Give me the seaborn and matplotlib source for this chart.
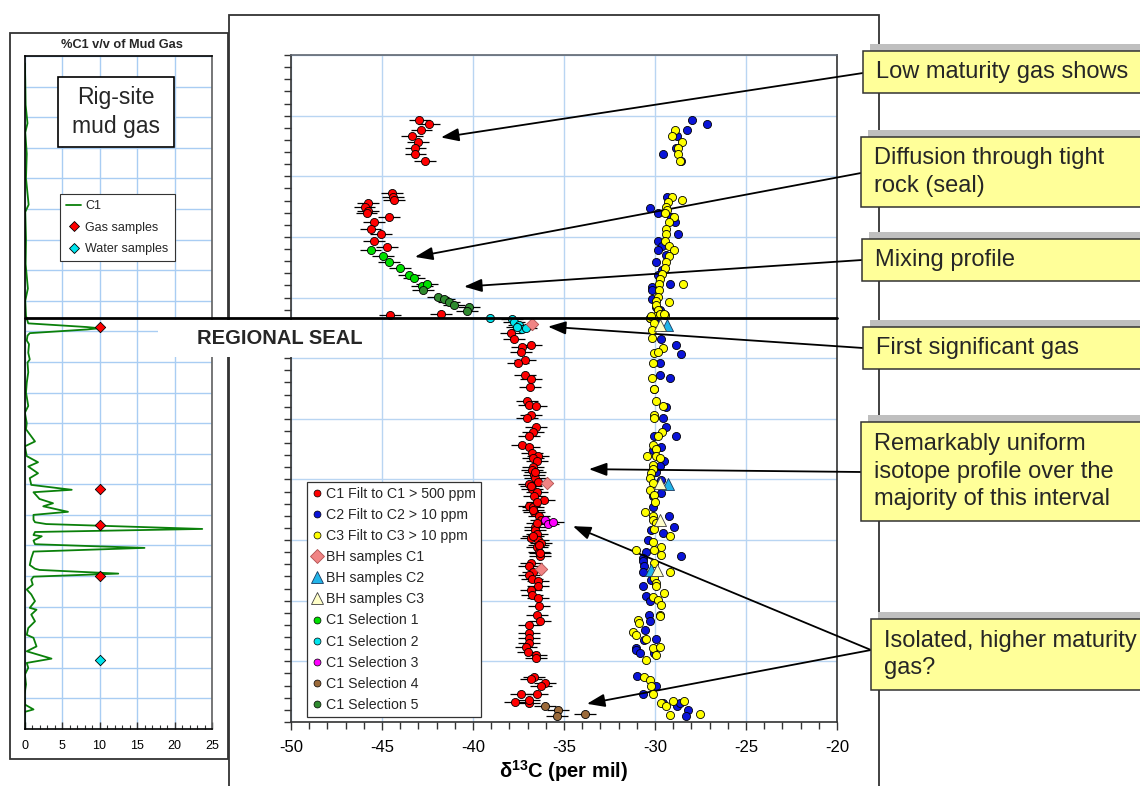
import matplotlib
matplotlib.use("Agg")
import matplotlib.pyplot as plt
import seaborn as sns
from matplotlib.lines import Line2D
from matplotlib.patches import Rectangle
from matplotlib.ticker import MultipleLocator, NullFormatter

# ---------------- data: main panel (delta13C per mil vs depth, 0 = top) ----------------
# C1, filtered to C1 > 500 ppm
c1_x = [-42.94, -42.42, -42.83, -43.34, -43.03, -43.16, -43.16, -42.66,
        -44.43, -44.39, -44.36, -45.76, -45.96, -45.76, -45.85, -44.61, -45.44,
        -45.63, -45.04, -45.44, -44.74,
        -44.54, -41.74,
        -37.92, -37.73, -36.82, -37.33, -37.37, -37.13, -37.53, -37.13, -36.83, -36.85,
        -37.04, -36.94, -36.52, -36.82, -37.02, -36.52, -36.72, -36.91, -37.33, -36.94,
        -36.76, -36.45, -36.72, -36.49, -36.72, -36.76, -36.67, -36.61, -36.45, -36.94,
        -36.78, -36.49, -36.63, -36.12, -36.94, -36.72, -36.67, -36.39, -36.25, -36.61,
        -36.58, -36.47, -36.82, -36.45, -36.27, -36.50, -36.36, -36.30,
        -36.60, -36.80, -36.50, -36.70, -36.50, -36.70, -36.40, -36.32,
        -36.82, -36.91, -36.72, -36.91, -36.76, -36.45, -36.45, -36.82, -36.76, -36.45,
        -36.36, -36.50, -36.30, -36.91, -36.94, -36.91, -36.91, -37.09, -37.00, -36.54,
        -36.54, -36.63, -36.82, -36.03, -36.27, -37.37, -36.50, -37.70, -36.94, -36.94]
c1_depth = [108, 114, 124, 134, 143, 154, 164, 174,
            228, 234, 239, 244, 251, 258, 261, 267, 276,
            287, 296, 307, 316,
            428, 427,
            459, 468, 478, 482, 489, 503, 508, 528, 534, 548,
            570, 577, 579, 594, 599, 614, 622, 628, 644, 647,
            657, 661, 665, 669, 680, 684, 693, 698, 704, 707,
            715, 720, 727, 734, 743, 745, 754, 761, 767, 779,
            784, 790, 796, 800, 805, 812, 819, 827,
            688, 710, 738, 750, 772, 793, 808, 821,
            837, 843, 852, 857, 864, 868, 875, 882, 890, 896,
            909, 923, 934, 940, 953, 962, 970, 977, 984, 989,
            995, 1025, 1029, 1035, 1040, 1054, 1054, 1067, 1068, 1063]

# C2, filtered to C2 > 10 ppm
c2_x = [-27.95, -27.14, -28.24, -28.81, -28.85, -29.55, -28.59,
        -29.36, -30.27, -29.86, -29.14, -28.90, -28.74, -29.86, -29.59, -29.86, -29.42,
        -29.95, -29.59, -29.86, -29.16, -30.14, -30.14, -30.14, -29.92, -29.73, -30.29,
        -29.94, -29.66, -28.87, -28.56, -29.75, -29.18, -29.75, -30.03, -29.39, -29.57,
        -29.39, -28.87, -30.08, -29.66, -30.12, -29.48, -29.75, -30.12, -29.94, -29.66,
        -29.66, -30.12, -30.12, -29.24, -28.93, -30.21, -29.57, -30.39, -30.49, -28.56,
        -30.67,
        -30.67, -30.58, -30.67, -30.21, -30.67, -30.52, -30.30, -30.34, -30.27, -30.54,
        -30.58, -29.97, -31.04, -31.04, -30.85, -30.03, -31.00, -29.94, -30.67, -29.57,
        -28.78, -28.65, -28.19, -28.28]
c2_depth = [108, 114, 123, 134, 154, 164, 174,
            234, 252, 261, 267, 276, 296, 307, 315, 322, 330,
            341, 354, 362, 378, 383, 388, 402, 416, 421, 433,
            437, 468, 478, 493, 508, 533, 528, 550, 580, 599,
            614, 628, 629, 646, 651, 669, 677, 682, 687, 701,
            723, 728, 745, 761, 779, 783, 789, 800, 819, 827,
            830,
            835, 843, 852, 865, 876, 893, 901, 923, 934, 948,
            964, 963, 978, 981, 986, 986, 1024, 1040, 1054, 1068,
            1074, 1069, 1080, 1090]

# C3, filtered to C3 > 10 ppm
c3_x = [-28.92, -29.05, -28.50, -28.76, -28.72, -28.65,
        -29.05, -28.54, -29.31, -29.42, -29.36, -29.46, -28.94, -29.22, -29.42, -29.42,
        -29.46, -29.22, -28.94, -29.25, -29.42, -29.46, -29.60, -29.73, -29.77, -28.46,
        -29.77, -29.86, -29.95, -29.25, -29.92, -29.82, -29.46, -29.92, -30.29,
        -30.21, -29.75, -29.48, -30.08, -30.14, -30.16, -29.57, -30.06, -29.81, -30.10,
        -30.16, -30.08, -29.94, -29.57, -30.08, -30.08, -29.61, -29.84, -30.12, -29.97,
        -30.43, -29.97, -29.75, -30.12, -30.12, -30.21, -30.27, -30.12, -30.30, -30.03,
        -29.99, -30.54, -30.12, -30.12, -29.94, -30.03, -29.20, -30.12, -29.66, -31.04,
        -30.03,
        -29.66, -30.03, -29.20, -30.03, -29.94, -29.97, -29.48, -30.12, -29.84, -29.66,
        -29.75, -29.75, -30.94, -30.89, -31.22, -31.04, -30.49, -30.12, -29.75, -29.94,
        -30.49, -30.58, -30.30, -30.21, -30.12, -29.66, -29.02, -29.39, -28.38, -29.20,
        -27.55]
c3_depth = [123, 134, 143, 154, 164, 174,
            234, 239, 242, 250, 256, 261, 267, 276, 287, 296,
            307, 315, 322, 331, 341, 352, 361, 369, 377, 378,
            388, 399, 405, 407, 413, 421, 428, 431, 433,
            431, 427, 427, 442, 453, 467, 484, 492, 489, 508,
            533, 550, 570, 579, 594, 599, 621, 628, 643, 650,
            661, 662, 665, 676, 683, 690, 698, 706, 717, 726,
            738, 753, 761, 767, 772, 781, 793, 803, 811, 817,
            816,
            824, 837, 853, 863, 871, 876, 888, 894, 898, 907,
            923, 926, 931, 937, 951, 956, 963, 978, 977, 989,
            997, 1025, 1030, 1041, 1054, 1069, 1066, 1074, 1066, 1089,
            1086]

# borehole samples
bh_c1_x = [-36.78, -35.94, -36.27]
bh_c1_depth = [443, 706, 848]
bh_c2_x = [-29.33, -29.26, -30.21]
bh_c2_depth = [445, 707, 849]
bh_c3_x = [-29.73, -29.73, -29.73, -29.88]
bh_c3_depth = [445, 706, 767, 850]

# C1 selections
sel1_x = [-45.63, -44.94, -44.61, -44.02, -43.51, -43.23, -42.81, -42.51]
sel1_depth = [322, 331, 341, 352, 362, 368, 381, 378]
sel2_x = [-39.07, -37.88, -37.73, -37.46, -37.31, -37.09, -37.60]
sel2_depth = [433, 435, 441, 445, 452, 451, 449]
sel3_x = [-36.05, -35.90, -35.62]
sel3_depth = [767, 773, 770]
sel4_x = [-36.05, -35.35, -35.40, -33.83]
sel4_depth = [1074, 1080, 1090, 1086]
sel5_x = [-42.73, -41.92, -41.57, -41.34, -41.04, -40.21, -40.32]
sel5_depth = [387, 399, 403, 407, 412, 416, 422]

c1_err = 0.6  # +/- per mil

# ---------------- data: left panel (% C1 v/v of mud gas) ----------------
mud_c1_pct = [0.05, 0.1, 0.15, 0.4, 0.1, 0.3, 0.2, 0.55, 0.1, 0.2, 0.15, 0.45, 0.1, 0.2,
              0.5, 8.3, 10.0, 8.3, 0.7, 0.4, 0.3, 0.6, 0.5, 0.7, 0.4, 0.5, 0.3, 0.2,
              0.5, 0.05, 0.3, 0.2, 1.4, 0.05, 0.3, 1.8, 0.5, 1.8, 0.7, 0.9, 6.3, 1.2,
              2.0, 3.8, 2.5, 5.8, 1.2, 1.2, 1.4, 2.9, 23.7, 1.4, 1.2, 2.3, 1.2, 1.4,
              16.0, 1.2, 0.9, 0.7, 1.4, 2.0, 12.5, 1.2, 0.9, 1.1, 0.3, 0.9, 1.4, 0.7,
              1.6, 0.9, 1.4, 0.5, 0.3, 1.2, 1.6, 0.3, 3.6, 0.3, 0.5, 0.05, 0.2, 0.0,
              0.05, 1.2, 0.05, 0.0, 0.05]
mud_depth = [12, 40, 80, 110, 125, 160, 200, 243, 255, 300, 340, 380, 400, 425,
             437, 443, 445, 447, 453, 457, 465, 471, 485, 496, 501, 517, 534, 550,
             572, 583, 600, 610, 630, 638, 654, 664, 671, 682, 690, 701, 709, 713,
             724, 731, 736, 745, 750, 758, 762, 765, 773, 778, 783, 785, 792, 798,
             804, 810, 821, 832, 838, 840, 846, 851, 856, 864, 872, 880, 891, 902,
             905, 913, 924, 935, 946, 951, 965, 973, 985, 992, 1000, 1011, 1027, 1044,
             1060, 1068, 1072, 1087, 1096]
gas_pct = [10, 10, 10, 10]
gas_depth = [443, 707, 767, 850]
water_pct = [10]
water_depth = [987]

notes = ["Low maturity gas shows",
         "Diffusion through tight\nrock (seal)",
         "Mixing profile",
         "First significant gas",
         "Remarkably uniform\nisotope profile over the\nmajority of this interval",
         "Isolated, higher maturity\ngas?"]

# ---------------- style ----------------
sns.set_theme(style="white")
plt.rcParams["font.family"] = ["Liberation Sans", "DejaVu Sans"]
plt.rcParams["axes.unicode_minus"] = False
plt.rcParams["mathtext.fontset"] = "custom"
plt.rcParams["mathtext.rm"] = "Liberation Sans"
plt.rcParams["mathtext.bf"] = "Liberation Sans:bold"

GRID = "#b9d5f2"
EDGE = "#333333"
W, H = 1140, 786
fig = plt.figure(figsize=(W / 100, H / 100), dpi=100)


def fx(px):
    return px / W


def fy(py):
    return 1 - py / H


def fig_rect(x0, y0, x1, y1, **kw):
    r = Rectangle((fx(x0), fy(y1)), fx(x1) - fx(x0), fy(y0) - fy(y1),
                  transform=fig.transFigure, **kw)
    fig.add_artist(r)
    return r


ax = fig.add_axes([fx(291), fy(722), fx(837) - fx(291), fy(55) - fy(722)])
lax = fig.add_axes([fx(24.5), fy(729), fx(212) - fx(24.5), fy(56) - fy(729)])

# ---------------- main panel ----------------
all_c1_x = c1_x + sel1_x + sel2_x + sel3_x + sel4_x + sel5_x
all_c1_d = c1_depth + sel1_depth + sel2_depth + sel3_depth + sel4_depth + sel5_depth
ax.errorbar(all_c1_x, all_c1_d, xerr=c1_err, fmt="none", ecolor="black",
            elinewidth=0.9, capsize=0, zorder=2)

pt = dict(ax=ax, s=34, edgecolor="black", linewidth=0.6, legend=False)
sns.scatterplot(x=c2_x, y=c2_depth, color="#0a14d8", zorder=3, **pt)
sns.scatterplot(x=c3_x, y=c3_depth, color="#ffff00", zorder=3.1, **pt)
sns.scatterplot(x=c1_x, y=c1_depth, color="#ff0000", zorder=3.2, **pt)
sns.scatterplot(x=sel1_x, y=sel1_depth, color="#00e000", zorder=3.3, **pt)
sns.scatterplot(x=sel2_x, y=sel2_depth, color="#00e5ee", zorder=3.3, **pt)
sns.scatterplot(x=sel3_x, y=sel3_depth, color="#ff00ff", zorder=3.3, **pt)
sns.scatterplot(x=sel4_x, y=sel4_depth, color="#9b6a3a", zorder=3.3, **pt)
sns.scatterplot(x=sel5_x, y=sel5_depth, color="#2f8a2f", zorder=3.3, **pt)
sns.scatterplot(x=bh_c1_x, y=bh_c1_depth, color="#f08484", marker="D", s=40,
                edgecolor="#b05050", linewidth=0.6, ax=ax, zorder=4, legend=False)
sns.scatterplot(x=bh_c2_x, y=bh_c2_depth, color="#22b4e8", marker="^", s=75,
                edgecolor="#1a3a60", linewidth=0.6, ax=ax, zorder=4, legend=False)
sns.scatterplot(x=bh_c3_x, y=bh_c3_depth, color="#ffffc8", marker="^", s=75,
                edgecolor="#404040", linewidth=0.6, ax=ax, zorder=4.1, legend=False)

ax.set_xlim(-50, -20)
ax.set_ylim(1100, 0)
ax.xaxis.set_major_locator(MultipleLocator(5))
ax.xaxis.set_minor_locator(MultipleLocator(1))
ax.yaxis.set_major_locator(MultipleLocator(100))
ax.yaxis.set_minor_locator(MultipleLocator(20))
ax.yaxis.set_major_formatter(NullFormatter())
ax.grid(True, which="major", color=GRID, lw=1)
ax.set_axisbelow(True)
ax.tick_params(axis="x", which="major", bottom=True, direction="out", length=6,
               width=1, color=EDGE, labelsize=12, pad=7, labelcolor="black")
ax.tick_params(axis="x", which="minor", bottom=True, direction="out", length=5,
               width=1, color=EDGE)
ax.tick_params(axis="y", which="both", left=True, direction="out", length=5,
               width=1, color=EDGE)
for s in ax.spines.values():
    s.set_color(EDGE)
    s.set_linewidth(1.2)
ax.spines["top"].set_color("#5f6670")
ax.set_ylabel("")
ax.set_xlabel(r"δ$^{\mathbf{13}}$C (per mil)", fontsize=14.5, fontweight="bold",
              labelpad=2, color="black")

handles = [
    Line2D([], [], ls="", marker="o", ms=5, mfc="#ff0000", mec="black", mew=0.5, label="C1 Filt to C1 > 500 ppm"),
    Line2D([], [], ls="", marker="o", ms=5, mfc="#0a14d8", mec="black", mew=0.5, label="C2 Filt to C2 > 10 ppm"),
    Line2D([], [], ls="", marker="o", ms=5, mfc="#ffff00", mec="black", mew=0.5, label="C3 Filt to C3 > 10 ppm"),
    Line2D([], [], ls="", marker="D", ms=7, mfc="#f08484", mec="#b05050", mew=0.6, label="BH samples C1"),
    Line2D([], [], ls="", marker="^", ms=9, mfc="#22b4e8", mec="#1a3a60", mew=0.6, label="BH samples C2"),
    Line2D([], [], ls="", marker="^", ms=9, mfc="#ffffc8", mec="#404040", mew=0.6, label="BH samples C3"),
    Line2D([], [], ls="", marker="o", ms=5, mfc="#00e000", mec="black", mew=0.5, label="C1 Selection 1"),
    Line2D([], [], ls="", marker="o", ms=5, mfc="#00e5ee", mec="black", mew=0.5, label="C1 Selection 2"),
    Line2D([], [], ls="", marker="o", ms=5, mfc="#ff00ff", mec="black", mew=0.5, label="C1 Selection 3"),
    Line2D([], [], ls="", marker="o", ms=5, mfc="#9b6a3a", mec="black", mew=0.5, label="C1 Selection 4"),
    Line2D([], [], ls="", marker="o", ms=5, mfc="#2f8a2f", mec="black", mew=0.5, label="C1 Selection 5"),
]
leg = ax.legend(handles=handles, loc="upper left", bbox_to_anchor=(fx(307), fy(482)),
                bbox_transform=fig.transFigure, frameon=True, fancybox=False,
                edgecolor=EDGE, framealpha=1, fontsize=10.2, borderpad=0.35,
                labelspacing=0.5, handlelength=0.7, handletextpad=0.3,
                borderaxespad=0)
leg.get_frame().set_linewidth(0.9)

# ---------------- left panel ----------------
sns.lineplot(x=mud_c1_pct, y=mud_depth, sort=False, estimator=None, color="#0a800a",
             lw=1.3, ax=lax)
sns.scatterplot(x=gas_pct, y=gas_depth, color="#ff0000", marker="D", s=28,
                edgecolor="black", linewidth=0.6, ax=lax, zorder=4, legend=False)
sns.scatterplot(x=water_pct, y=water_depth, color="#00e5ee", marker="D", s=28,
                edgecolor="black", linewidth=0.6, ax=lax, zorder=4, legend=False)
lax.set_xlim(0, 25)
lax.set_ylim(1100, 0)
lax.xaxis.set_major_locator(MultipleLocator(5))
lax.xaxis.set_minor_locator(MultipleLocator(1))
lax.yaxis.set_major_locator(MultipleLocator(50))
lax.yaxis.set_major_formatter(NullFormatter())
lax.grid(True, which="major", color="#a9cdf3", lw=1)
lax.set_axisbelow(True)
lax.tick_params(axis="x", which="major", bottom=True, direction="in", length=5,
                width=1, color=EDGE, labelsize=9, pad=8, labelcolor="black")
lax.tick_params(axis="x", which="minor", bottom=True, direction="in", length=3,
                width=0.8, color=EDGE)
lax.tick_params(axis="y", which="both", left=False, length=0)
for s in lax.spines.values():
    s.set_color("black")
    s.set_linewidth(1.2)
lax.spines["right"].set_color("#606060")
lax.set_xlabel("")
lax.set_ylabel("")
lhandles = [
    Line2D([], [], color="#0a800a", lw=1.3, label="C1"),
    Line2D([], [], ls="", marker="D", ms=5, mfc="#ff0000", mec="black", mew=0.6, label="Gas samples"),
    Line2D([], [], ls="", marker="D", ms=5, mfc="#00e5ee", mec="black", mew=0.6, label="Water samples"),
]
lleg = lax.legend(handles=lhandles, loc="upper left", bbox_to_anchor=(fx(60), fy(194)),
                  bbox_transform=fig.transFigure, frameon=True, fancybox=False,
                  edgecolor=EDGE, framealpha=1, fontsize=9, borderpad=0.5,
                  labelspacing=0.75, handlelength=1.2, handletextpad=0.3,
                  borderaxespad=0)
lleg.get_frame().set_linewidth(0.8)
fig.text(fx(122), fy(45), "%C1 v/v of Mud Gas", fontsize=9.2, fontweight="bold",
         ha="center", va="center")
fig_rect(58, 77, 174, 147, facecolor="white", edgecolor="black", lw=1.2, zorder=5)
fig.text(fx(116), fy(112), "Rig-site\nmud gas", fontsize=16.5, ha="center",
         va="center", linespacing=1.3, zorder=6)

# ---------------- frames, seal line ----------------
fig_rect(229, 14.5, 879, 800, fill=False, edgecolor=EDGE, lw=1.3, zorder=1)
fig_rect(10, 32.5, 228, 759, fill=False, edgecolor=EDGE, lw=1.3, zorder=1)
fig_rect(158, 319.5, 372, 357, facecolor="white", edgecolor="none", zorder=5)
fig.add_artist(Line2D([fx(24.5), fx(837)], [fy(318), fy(318)], transform=fig.transFigure,
                      color="black", lw=2, zorder=6))
fig.text(fx(280), fy(339), "REGIONAL SEAL", fontsize=14.5, fontweight="bold",
         ha="center", va="center", zorder=7)

# ---------------- annotation boxes and arrows ----------------
box_geom = [(863, 51, 93), (861, 137, 207), (862, 239, 281),
            (863, 327, 369), (861, 422, 521), (871, 619, 690)]
arrow_from = [(863, 73), (861, 173), (862, 260), (863, 348), (861, 472), (871, 650)]
arrow_to = [[(-41.76, 136)], [(-43.19, 333)], [(-40.49, 382)], [(-35.88, 448)],
            [(-33.63, 683)], [(-34.51, 777), (-33.74, 1070)]]

for text, (x0, y0, y1), (sx, sy), targets in zip(notes, box_geom, arrow_from, arrow_to):
    fig_rect(x0 + 7, y0 - 7, 1160, y1 - 7, facecolor="#bfbfbf", edgecolor="none", zorder=2)
    fig_rect(x0, y0, 1160, y1, facecolor="#ffff99", edgecolor=EDGE, lw=1.1, zorder=3)
    fig.text(fx(x0 + 13), fy((y0 + y1) / 2), text, fontsize=17, ha="left",
             va="center", linespacing=1.3, zorder=4)
    for tx, td in targets:
        ax.annotate("", xy=(tx, td), xycoords="data", xytext=(fx(sx), fy(sy)),
                    textcoords="figure fraction", annotation_clip=False,
                    arrowprops=dict(arrowstyle="-|>,head_length=0.6,head_width=0.22",
                                    color="black", lw=1.3, mutation_scale=18,
                                    shrinkA=0, shrinkB=0))

fig.savefig("out.png", dpi=100)
